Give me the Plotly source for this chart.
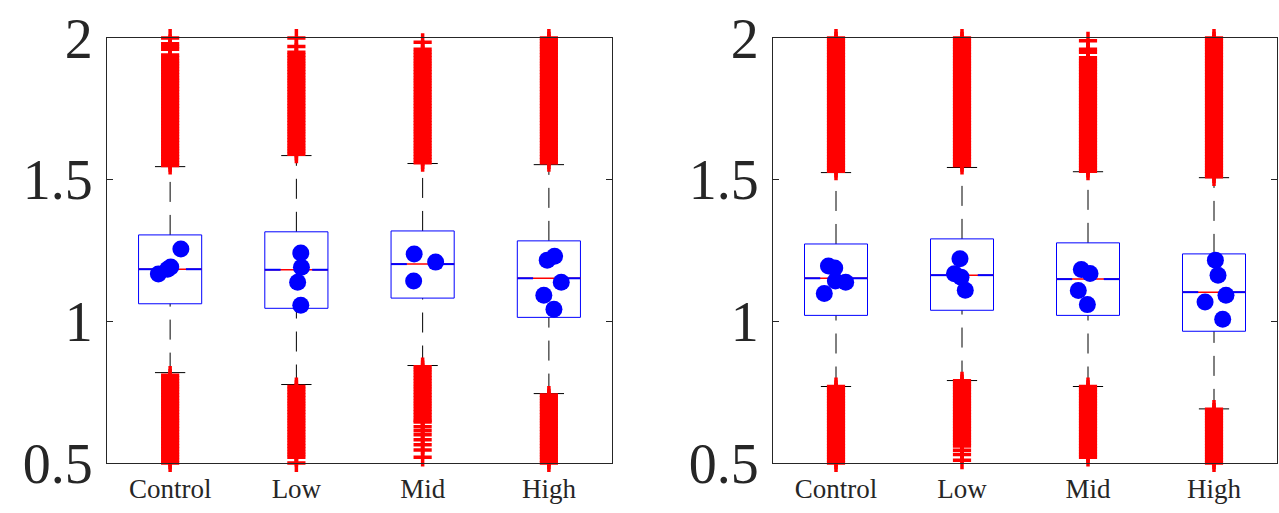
import plotly.graph_objects as go

# ---------------- data ----------------
categories = ["Control", "Low", "Mid", "High"]
positions = [1, 2, 3, 4]
y_ticks = [0.5, 1, 1.5, 2]
y_tick_labels = ["0.5", "1", "1.5", "2"]

# left panel box statistics
left_q1 = [1.062, 1.046, 1.082, 1.014]
left_median = [1.184, 1.182, 1.202, 1.152]
left_q3 = [1.305, 1.316, 1.319, 1.284]
left_lower_whisker = [0.819, 0.777, 0.844, 0.745]
left_upper_whisker = [1.546, 1.585, 1.557, 1.553]

# right panel box statistics
right_q1 = [1.021, 1.039, 1.021, 0.965]
right_median = [1.152, 1.163, 1.149, 1.103]
right_q3 = [1.273, 1.291, 1.277, 1.238]
right_lower_whisker = [0.770, 0.791, 0.770, 0.691]
right_upper_whisker = [1.525, 1.543, 1.528, 1.507]

# individual points (value, horizontal jitter)
left_dots_control = [1.255, 1.192, 1.184, 1.167]
left_jit_control = [0.085, 0.005, -0.02, -0.093]
left_dots_low = [1.241, 1.191, 1.138, 1.057]
left_jit_low = [0.035, 0.04, 0.01, 0.035]
left_dots_mid = [1.238, 1.209, 1.142]
left_jit_mid = [-0.067, 0.103, -0.071]
left_dots_high = [1.230, 1.216, 1.138, 1.092, 1.043]
left_jit_high = [0.045, -0.013, 0.098, -0.04, 0.04]

right_dots_control = [1.195, 1.188, 1.142, 1.138, 1.098]
right_jit_control = [-0.06, -0.01, -0.005, 0.077, -0.093]
right_dots_low = [1.221, 1.168, 1.156, 1.110]
right_jit_low = [-0.016, -0.06, -0.008, 0.026]
right_dots_mid = [1.183, 1.169, 1.109, 1.059]
right_jit_mid = [-0.053, 0.016, -0.077, -0.005]
right_dots_high = [1.216, 1.163, 1.092, 1.068, 1.007]
right_jit_high = [0.011, 0.032, 0.095, -0.071, 0.069]

# outliers (dense)
left_out_control = [0.50, 0.51, 0.52, 0.53, 0.54, 0.55, 0.56, 0.57, 0.58, 0.59, 0.60, 0.61, 0.62, 0.63,
                    0.64, 0.65, 0.66, 0.67, 0.68, 0.69, 0.70, 0.71, 0.72, 0.73, 0.74, 0.75, 0.76, 0.77,
                    0.78, 0.79, 0.80, 0.81,
                    1.55, 1.56, 1.57, 1.58, 1.59, 1.60, 1.61, 1.62, 1.63, 1.64, 1.65, 1.66, 1.67, 1.68,
                    1.69, 1.70, 1.71, 1.72, 1.73, 1.74, 1.75, 1.76, 1.77, 1.78, 1.79, 1.80, 1.81, 1.82,
                    1.83, 1.84, 1.85, 1.86, 1.87, 1.88, 1.89, 1.90, 1.91, 1.92, 1.93, 1.94, 1.96, 1.97,
                    1.98, 2.00]
left_out_low = [0.50, 0.52, 0.53, 0.54, 0.55, 0.56, 0.57, 0.58, 0.59, 0.60, 0.61, 0.62, 0.63, 0.64,
                0.65, 0.66, 0.67, 0.68, 0.69, 0.70, 0.71, 0.72, 0.73, 0.74, 0.75, 0.76, 0.77,
                1.59, 1.60, 1.61, 1.62, 1.63, 1.64, 1.65, 1.66, 1.67, 1.68, 1.69, 1.70, 1.71, 1.72,
                1.73, 1.74, 1.75, 1.76, 1.77, 1.78, 1.79, 1.80, 1.81, 1.82, 1.83, 1.84, 1.85, 1.86,
                1.87, 1.88, 1.89, 1.90, 1.91, 1.92, 1.93, 1.94, 1.95, 1.97, 2.00]
left_out_mid = [0.52, 0.546, 0.564, 0.582, 0.60, 0.614, 0.628, 0.645, 0.65, 0.66, 0.67, 0.68, 0.69,
                0.70, 0.71, 0.72, 0.73, 0.74, 0.75, 0.76, 0.77, 0.78, 0.79, 0.80, 0.81, 0.82, 0.83,
                0.84,
                1.56, 1.57, 1.58, 1.59, 1.60, 1.61, 1.62, 1.63, 1.64, 1.65, 1.66, 1.67, 1.68, 1.69,
                1.70, 1.71, 1.72, 1.73, 1.74, 1.75, 1.76, 1.77, 1.78, 1.79, 1.80, 1.81, 1.82, 1.83,
                1.84, 1.85, 1.86, 1.87, 1.88, 1.89, 1.90, 1.91, 1.92, 1.93, 1.94, 1.95, 1.96, 1.985]
left_out_high = [0.50, 0.51, 0.52, 0.53, 0.54, 0.55, 0.56, 0.57, 0.58, 0.59, 0.60, 0.61, 0.62, 0.63,
                 0.64, 0.65, 0.66, 0.67, 0.68, 0.69, 0.70, 0.71, 0.72, 0.73, 0.74,
                 1.56, 1.57, 1.58, 1.59, 1.60, 1.61, 1.62, 1.63, 1.64, 1.65, 1.66, 1.67, 1.68, 1.69,
                 1.70, 1.71, 1.72, 1.73, 1.74, 1.75, 1.76, 1.77, 1.78, 1.79, 1.80, 1.81, 1.82, 1.83,
                 1.84, 1.85, 1.86, 1.87, 1.88, 1.89, 1.90, 1.91, 1.92, 1.93, 1.94, 1.95, 1.96, 1.97,
                 1.98, 1.99, 2.00]

right_out_control = [0.50, 0.51, 0.52, 0.53, 0.54, 0.55, 0.56, 0.57, 0.58, 0.59, 0.60, 0.61, 0.62,
                     0.63, 0.64, 0.65, 0.66, 0.67, 0.68, 0.69, 0.70, 0.71, 0.72, 0.73, 0.74, 0.75,
                     0.76, 0.77,
                     1.53, 1.54, 1.55, 1.56, 1.57, 1.58, 1.59, 1.60, 1.61, 1.62, 1.63, 1.64, 1.65,
                     1.66, 1.67, 1.68, 1.69, 1.70, 1.71, 1.72, 1.73, 1.74, 1.75, 1.76, 1.77, 1.78,
                     1.79, 1.80, 1.81, 1.82, 1.83, 1.84, 1.85, 1.86, 1.87, 1.88, 1.89, 1.90, 1.91,
                     1.92, 1.93, 1.94, 1.95, 1.96, 1.97, 1.98, 1.99, 2.00]
right_out_low = [0.51, 0.53, 0.545, 0.56, 0.57, 0.58, 0.59, 0.60, 0.61, 0.62, 0.63, 0.64, 0.65,
                 0.66, 0.67, 0.68, 0.69, 0.70, 0.71, 0.72, 0.73, 0.74, 0.75, 0.76, 0.77, 0.78, 0.79,
                 1.55, 1.56, 1.57, 1.58, 1.59, 1.60, 1.61, 1.62, 1.63, 1.64, 1.65, 1.66, 1.67, 1.68,
                 1.69, 1.70, 1.71, 1.72, 1.73, 1.74, 1.75, 1.76, 1.77, 1.78, 1.79, 1.80, 1.81, 1.82,
                 1.83, 1.84, 1.85, 1.86, 1.87, 1.88, 1.89, 1.90, 1.91, 1.92, 1.93, 1.94, 1.95, 1.96,
                 1.97, 1.98, 1.99, 2.00]
right_out_mid = [0.52, 0.53, 0.54, 0.55, 0.56, 0.57, 0.58, 0.59, 0.60, 0.61, 0.62, 0.63, 0.64, 0.65,
                 0.66, 0.67, 0.68, 0.69, 0.70, 0.71, 0.72, 0.73, 0.74, 0.75, 0.76, 0.77,
                 1.53, 1.54, 1.55, 1.56, 1.57, 1.58, 1.59, 1.60, 1.61, 1.62, 1.63, 1.64, 1.65, 1.66,
                 1.67, 1.68, 1.69, 1.70, 1.71, 1.72, 1.73, 1.74, 1.75, 1.76, 1.77, 1.78, 1.79, 1.80,
                 1.81, 1.82, 1.83, 1.84, 1.85, 1.86, 1.87, 1.88, 1.89, 1.90, 1.91, 1.92, 1.93, 1.95,
                 1.96, 1.99]
right_out_high = [0.50, 0.51, 0.52, 0.53, 0.54, 0.55, 0.56, 0.57, 0.58, 0.59, 0.60, 0.61, 0.62,
                  0.63, 0.64, 0.65, 0.66, 0.67, 0.68, 0.69,
                  1.51, 1.52, 1.53, 1.54, 1.55, 1.56, 1.57, 1.58, 1.59, 1.60, 1.61, 1.62, 1.63,
                  1.64, 1.65, 1.66, 1.67, 1.68, 1.69, 1.70, 1.71, 1.72, 1.73, 1.74, 1.75, 1.76,
                  1.77, 1.78, 1.79, 1.80, 1.81, 1.82, 1.83, 1.84, 1.85, 1.86, 1.87, 1.88, 1.89,
                  1.90, 1.91, 1.92, 1.93, 1.94, 1.95, 1.96, 1.97, 1.98, 1.99, 2.00]

# ---------------- styling ----------------
RED = "#FF0000"
BLUE = "#0000FF"
AXC = "#262626"
SERIF = "Liberation Serif"
BOX_HALF = 0.25
CAP_HALF = 0.12
MED_BLUE = 0.125

fig = go.Figure()


def add_panel(xa, ya, q1, med, q3, lw, uw, outliers, dots, jits):
    # whiskers (drawn bottom to top)
    wx, wy = [], []
    for p, a, b, c, d in zip(positions, lw, q1, q3, uw):
        wx += [p, p, None, p, p, None]
        wy += [a, b, None, c, d, None]
    fig.add_trace(go.Scatter(x=wx, y=wy, mode="lines", xaxis=xa, yaxis=ya,
                             line=dict(color="black", width=1, dash="20px,13px"),
                             hoverinfo="skip", showlegend=False))
    # caps
    cx, cy = [], []
    for p, a, d in zip(positions, lw, uw):
        cx += [p - CAP_HALF, p + CAP_HALF, None, p - CAP_HALF, p + CAP_HALF, None]
        cy += [a, a, None, d, d, None]
    fig.add_trace(go.Scatter(x=cx, y=cy, mode="lines", xaxis=xa, yaxis=ya,
                             line=dict(color="black", width=1),
                             hoverinfo="skip", showlegend=False))
    # boxes
    bx, by = [], []
    for p, b, c in zip(positions, q1, q3):
        bx += [p - BOX_HALF, p + BOX_HALF, p + BOX_HALF, p - BOX_HALF, p - BOX_HALF, None]
        by += [b, b, c, c, b, None]
    fig.add_trace(go.Scatter(x=bx, y=by, mode="lines", xaxis=xa, yaxis=ya,
                             line=dict(color=BLUE, width=1),
                             hoverinfo="skip", showlegend=False))
    # median (red) with blue ends
    mx, my = [], []
    for p, m in zip(positions, med):
        mx += [p - BOX_HALF, p + BOX_HALF, None]
        my += [m, m, None]
    fig.add_trace(go.Scatter(x=mx, y=my, mode="lines", xaxis=xa, yaxis=ya,
                             line=dict(color=RED, width=1.5),
                             hoverinfo="skip", showlegend=False))
    ex, ey = [], []
    for p, m in zip(positions, med):
        ex += [p - BOX_HALF, p - MED_BLUE, None, p + MED_BLUE, p + BOX_HALF, None]
        ey += [m, m, None, m, m, None]
    fig.add_trace(go.Scatter(x=ex, y=ey, mode="lines", xaxis=xa, yaxis=ya,
                             line=dict(color=BLUE, width=2),
                             hoverinfo="skip", showlegend=False))
    # outliers
    ox, oy = [], []
    for p, vals in zip(positions, outliers):
        ox += [p] * len(vals)
        oy += vals
    fig.add_trace(go.Scatter(x=ox, y=oy, mode="markers", xaxis=xa, yaxis=ya,
                             marker=dict(symbol="cross-thin", size=13,
                                         line=dict(color=RED, width=3.5)),
                             cliponaxis=False, hoverinfo="skip", showlegend=False))
    # dots
    dx, dy = [], []
    for p, vals, js in zip(positions, dots, jits):
        dx += [p + j for j in js]
        dy += vals
    fig.add_trace(go.Scatter(x=dx, y=dy, mode="markers", xaxis=xa, yaxis=ya,
                             marker=dict(color=BLUE, size=17, line=dict(width=0)),
                             cliponaxis=False, hoverinfo="skip", showlegend=False))


add_panel("x", "y", left_q1, left_median, left_q3, left_lower_whisker, left_upper_whisker,
          [left_out_control, left_out_low, left_out_mid, left_out_high],
          [left_dots_control, left_dots_low, left_dots_mid, left_dots_high],
          [left_jit_control, left_jit_low, left_jit_mid, left_jit_high])
add_panel("x2", "y2", right_q1, right_median, right_q3, right_lower_whisker, right_upper_whisker,
          [right_out_control, right_out_low, right_out_mid, right_out_high],
          [right_dots_control, right_dots_low, right_dots_mid, right_dots_high],
          [right_jit_control, right_jit_low, right_jit_mid, right_jit_high])

W, H = 1279, 513
x1 = [107 / W, 612 / W]
x2 = [773 / W, 1277 / W]
yd = [1 - 463 / H, 1 - 38 / H]

xcommon = dict(range=[0.5, 4.5], tickvals=positions, ticktext=categories, ticks="",
               showline=True, mirror=True, linecolor=AXC, linewidth=1, showgrid=False,
               zeroline=False, tickfont=dict(family=SERIF, size=27, color=AXC),
               ticklabelstandoff=2, automargin=False)
ycommon = dict(range=[0.5, 2], tickvals=y_ticks, ticktext=y_tick_labels, ticks="inside",
               ticklen=6, tickcolor=AXC, showline=True, mirror="ticks", linecolor=AXC,
               linewidth=1, showgrid=False, zeroline=False,
               tickfont=dict(family=SERIF, size=56, color=AXC), ticklabelstandoff=2,
               automargin=False)

fig.update_layout(
    width=W, height=H,
    margin=dict(l=0, r=0, t=0, b=0, autoexpand=False),
    paper_bgcolor="white", plot_bgcolor="white",
    xaxis=dict(domain=x1, anchor="y", **xcommon),
    yaxis=dict(domain=yd, anchor="x", **ycommon),
    xaxis2=dict(domain=x2, anchor="y2", **xcommon),
    yaxis2=dict(domain=yd, anchor="x2", **ycommon),
    showlegend=False,
)

fig.write_html("out.html", config={"displayModeBar": False},
               post_script="document.body.style.margin='0';document.body.style.overflow='hidden';")
